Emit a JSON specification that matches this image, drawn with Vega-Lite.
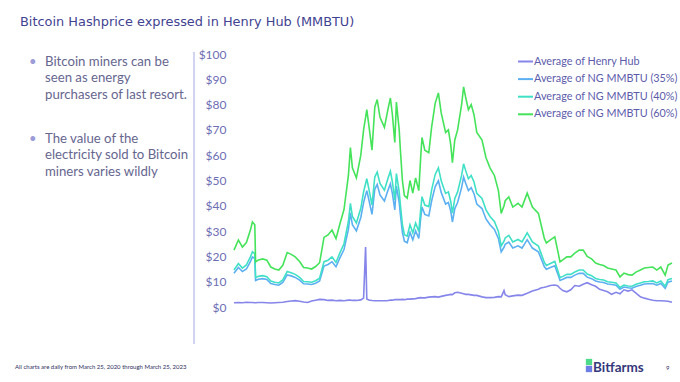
{
  "$schema": "https://vega.github.io/schema/vega-lite/v6.json",
  "autosize": {"type": "none"},
  "width": 438,
  "height": 253,
  "padding": {"left": 234, "top": 54, "right": 8, "bottom": 75},
  "background": "white",
  "config": {"view": {"stroke": null}},
  "datasets": {
    "hash": [
      {"d":"2020-03-25","hh":1.7,"ng35":13.3,"ng40":14.6,"ng60":22.5},
      {"d":"2020-04-05","hh":1.8,"ng35":15.6,"ng40":17.2,"ng60":26.5},
      {"d":"2020-04-15","hh":1.7,"ng35":14.0,"ng40":15.4,"ng60":23.7},
      {"d":"2020-04-25","hh":1.9,"ng35":15.0,"ng40":16.6,"ng60":25.5},
      {"d":"2020-05-05","hh":1.8,"ng35":17.9,"ng40":19.8,"ng60":30.4},
      {"d":"2020-05-10","hh":1.8,"ng35":19.8,"ng40":21.8,"ng60":33.6},
      {"d":"2020-05-16","hh":1.7,"ng35":19.2,"ng40":21.1,"ng60":32.5},
      {"d":"2020-05-18","hh":1.7,"ng35":10.5,"ng40":11.6,"ng60":17.8},
      {"d":"2020-05-25","hh":1.8,"ng35":11.0,"ng40":12.1,"ng60":18.6},
      {"d":"2020-06-05","hh":1.8,"ng35":11.2,"ng40":12.4,"ng60":19.0},
      {"d":"2020-06-15","hh":1.7,"ng35":10.9,"ng40":12.0,"ng60":18.5},
      {"d":"2020-06-25","hh":1.6,"ng35":9.3,"ng40":10.3,"ng60":15.8},
      {"d":"2020-07-05","hh":1.7,"ng35":8.9,"ng40":9.8,"ng60":15.0},
      {"d":"2020-07-15","hh":1.8,"ng35":8.6,"ng40":9.5,"ng60":14.6},
      {"d":"2020-07-25","hh":1.9,"ng35":9.7,"ng40":10.7,"ng60":16.5},
      {"d":"2020-08-05","hh":2.2,"ng35":12.7,"ng40":14.0,"ng60":21.5},
      {"d":"2020-08-15","hh":2.4,"ng35":12.3,"ng40":13.5,"ng60":20.8},
      {"d":"2020-08-25","hh":2.5,"ng35":11.7,"ng40":12.9,"ng60":19.8},
      {"d":"2020-09-05","hh":2.3,"ng35":10.6,"ng40":11.7,"ng60":18.0},
      {"d":"2020-09-15","hh":2.0,"ng35":9.2,"ng40":10.1,"ng60":15.6},
      {"d":"2020-09-25","hh":1.8,"ng35":9.1,"ng40":10.0,"ng60":15.4},
      {"d":"2020-10-05","hh":2.4,"ng35":8.9,"ng40":9.8,"ng60":15.0},
      {"d":"2020-10-15","hh":2.7,"ng35":9.4,"ng40":10.4,"ng60":16.0},
      {"d":"2020-10-25","hh":3.0,"ng35":10.3,"ng40":11.4,"ng60":17.5},
      {"d":"2020-11-05","hh":2.9,"ng35":16.2,"ng40":17.9,"ng60":27.5},
      {"d":"2020-11-15","hh":2.6,"ng35":16.8,"ng40":18.5,"ng60":28.5},
      {"d":"2020-11-25","hh":2.7,"ng35":17.9,"ng40":19.8,"ng60":30.4},
      {"d":"2020-12-05","hh":2.5,"ng35":15.9,"ng40":17.6,"ng60":27.0},
      {"d":"2020-12-15","hh":2.6,"ng35":19.5,"ng40":21.5,"ng60":33.0},
      {"d":"2020-12-25","hh":2.5,"ng35":22.7,"ng40":25.0,"ng60":38.5},
      {"d":"2021-01-05","hh":2.7,"ng35":30.7,"ng40":33.8,"ng60":52.0},
      {"d":"2021-01-10","hh":2.7,"ng35":37.2,"ng40":41.0,"ng60":63.0},
      {"d":"2021-01-15","hh":2.6,"ng35":32.5,"ng40":35.8,"ng60":55.0},
      {"d":"2021-01-25","hh":2.6,"ng35":30.1,"ng40":33.2,"ng60":51.0},
      {"d":"2021-02-05","hh":2.8,"ng35":35.4,"ng40":39.0,"ng60":60.0},
      {"d":"2021-02-12","hh":3.5,"ng35":41.3,"ng40":45.5,"ng60":70.0},
      {"d":"2021-02-17","hh":23.7,"ng35":44.3,"ng40":48.8,"ng60":75.0},
      {"d":"2021-02-20","hh":3.2,"ng35":46.0,"ng40":50.7,"ng60":78.0},
      {"d":"2021-02-25","hh":2.8,"ng35":42.5,"ng40":46.8,"ng60":72.0},
      {"d":"2021-03-05","hh":2.6,"ng35":36.6,"ng40":40.3,"ng60":62.0},
      {"d":"2021-03-12","hh":2.5,"ng35":46.6,"ng40":51.4,"ng60":79.0},
      {"d":"2021-03-18","hh":2.5,"ng35":48.4,"ng40":53.3,"ng60":82.0},
      {"d":"2021-03-25","hh":2.5,"ng35":44.3,"ng40":48.8,"ng60":75.0},
      {"d":"2021-04-05","hh":2.5,"ng35":41.9,"ng40":46.2,"ng60":71.0},
      {"d":"2021-04-10","hh":2.5,"ng35":44.3,"ng40":48.8,"ng60":75.0},
      {"d":"2021-04-15","hh":2.6,"ng35":46.6,"ng40":51.4,"ng60":79.0},
      {"d":"2021-04-20","hh":2.7,"ng35":48.7,"ng40":53.7,"ng60":82.6},
      {"d":"2021-04-25","hh":2.7,"ng35":44.8,"ng40":49.4,"ng60":76.0},
      {"d":"2021-05-01","hh":2.9,"ng35":38.4,"ng40":42.3,"ng60":65.0},
      {"d":"2021-05-05","hh":2.9,"ng35":47.8,"ng40":52.7,"ng60":81.0},
      {"d":"2021-05-12","hh":2.9,"ng35":41.3,"ng40":45.5,"ng60":70.0},
      {"d":"2021-05-15","hh":2.9,"ng35":36.6,"ng40":40.3,"ng60":62.0},
      {"d":"2021-05-20","hh":3.0,"ng35":29.5,"ng40":32.5,"ng60":50.0},
      {"d":"2021-05-25","hh":2.9,"ng35":26.0,"ng40":28.6,"ng60":44.0},
      {"d":"2021-06-01","hh":3.1,"ng35":25.4,"ng40":28.0,"ng60":43.0},
      {"d":"2021-06-08","hh":3.1,"ng35":29.5,"ng40":32.5,"ng60":50.0},
      {"d":"2021-06-15","hh":3.2,"ng35":26.6,"ng40":29.3,"ng60":45.0},
      {"d":"2021-06-22","hh":3.3,"ng35":30.1,"ng40":33.2,"ng60":51.0},
      {"d":"2021-06-30","hh":3.6,"ng35":27.1,"ng40":29.9,"ng60":46.0},
      {"d":"2021-07-05","hh":3.7,"ng35":35.4,"ng40":39.0,"ng60":60.0},
      {"d":"2021-07-08","hh":3.6,"ng35":39.5,"ng40":43.6,"ng60":67.0},
      {"d":"2021-07-15","hh":3.6,"ng35":36.6,"ng40":40.3,"ng60":62.0},
      {"d":"2021-07-25","hh":3.9,"ng35":36.0,"ng40":39.7,"ng60":61.0},
      {"d":"2021-08-01","hh":4.0,"ng35":41.9,"ng40":46.2,"ng60":71.0},
      {"d":"2021-08-10","hh":4.1,"ng35":47.6,"ng40":52.4,"ng60":80.6},
      {"d":"2021-08-18","hh":3.9,"ng35":49.9,"ng40":55.0,"ng60":84.6},
      {"d":"2021-08-25","hh":4.2,"ng35":45.3,"ng40":49.9,"ng60":76.7},
      {"d":"2021-09-05","hh":4.6,"ng35":40.7,"ng40":44.9,"ng60":69.0},
      {"d":"2021-09-12","hh":4.8,"ng35":41.3,"ng40":45.5,"ng60":70.0},
      {"d":"2021-09-18","hh":5.0,"ng35":37.8,"ng40":41.6,"ng60":64.0},
      {"d":"2021-09-22","hh":4.9,"ng35":33.6,"ng40":37.1,"ng60":57.0},
      {"d":"2021-09-28","hh":5.6,"ng35":38.9,"ng40":42.9,"ng60":66.0},
      {"d":"2021-10-05","hh":5.8,"ng35":41.3,"ng40":45.5,"ng60":70.0},
      {"d":"2021-10-15","hh":5.4,"ng35":47.2,"ng40":52.0,"ng60":80.0},
      {"d":"2021-10-20","hh":5.2,"ng35":51.3,"ng40":56.6,"ng60":87.0},
      {"d":"2021-10-25","hh":5.0,"ng35":49.0,"ng40":54.0,"ng60":83.0},
      {"d":"2021-11-01","hh":5.0,"ng35":46.0,"ng40":50.7,"ng60":78.0},
      {"d":"2021-11-08","hh":4.8,"ng35":47.2,"ng40":52.0,"ng60":80.0},
      {"d":"2021-11-15","hh":4.6,"ng35":44.8,"ng40":49.4,"ng60":76.0},
      {"d":"2021-11-22","hh":4.6,"ng35":40.7,"ng40":44.9,"ng60":69.0},
      {"d":"2021-12-05","hh":4.0,"ng35":38.9,"ng40":42.9,"ng60":66.0},
      {"d":"2021-12-15","hh":3.7,"ng35":34.8,"ng40":38.4,"ng60":59.0},
      {"d":"2021-12-25","hh":3.7,"ng35":32.5,"ng40":35.8,"ng60":55.0},
      {"d":"2022-01-05","hh":3.8,"ng35":30.7,"ng40":33.8,"ng60":52.0},
      {"d":"2022-01-15","hh":4.1,"ng35":27.1,"ng40":29.9,"ng60":46.0},
      {"d":"2022-01-22","hh":4.0,"ng35":21.8,"ng40":24.1,"ng60":37.0},
      {"d":"2022-01-29","hh":6.5,"ng35":23.6,"ng40":26.0,"ng60":40.0},
      {"d":"2022-02-01","hh":4.9,"ng35":24.8,"ng40":27.3,"ng60":42.0},
      {"d":"2022-02-10","hh":4.1,"ng35":25.7,"ng40":28.3,"ng60":43.5},
      {"d":"2022-02-20","hh":4.4,"ng35":23.3,"ng40":25.7,"ng60":39.5},
      {"d":"2022-03-05","hh":4.7,"ng35":24.2,"ng40":26.7,"ng60":41.0},
      {"d":"2022-03-15","hh":4.6,"ng35":23.3,"ng40":25.7,"ng60":39.5},
      {"d":"2022-03-28","hh":5.4,"ng35":26.6,"ng40":29.3,"ng60":45.0},
      {"d":"2022-04-10","hh":6.3,"ng35":23.3,"ng40":25.7,"ng60":39.5},
      {"d":"2022-04-25","hh":7.0,"ng35":21.8,"ng40":24.1,"ng60":37.0},
      {"d":"2022-05-01","hh":7.5,"ng35":19.5,"ng40":21.5,"ng60":33.0},
      {"d":"2022-05-10","hh":7.8,"ng35":15.9,"ng40":17.6,"ng60":27.0},
      {"d":"2022-05-15","hh":8.0,"ng35":14.9,"ng40":16.4,"ng60":25.3},
      {"d":"2022-05-25","hh":8.5,"ng35":15.6,"ng40":17.2,"ng60":26.5},
      {"d":"2022-06-05","hh":8.7,"ng35":16.3,"ng40":18.0,"ng60":27.7},
      {"d":"2022-06-12","hh":8.4,"ng35":13.3,"ng40":14.6,"ng60":22.5},
      {"d":"2022-06-18","hh":7.4,"ng35":10.5,"ng40":11.6,"ng60":17.8},
      {"d":"2022-06-25","hh":6.5,"ng35":11.0,"ng40":12.1,"ng60":18.6},
      {"d":"2022-07-05","hh":6.0,"ng35":11.7,"ng40":12.9,"ng60":19.8},
      {"d":"2022-07-15","hh":6.8,"ng35":11.7,"ng40":12.9,"ng60":19.8},
      {"d":"2022-07-25","hh":8.5,"ng35":12.6,"ng40":13.8,"ng60":21.3},
      {"d":"2022-08-05","hh":8.2,"ng35":13.3,"ng40":14.6,"ng60":22.5},
      {"d":"2022-08-15","hh":9.0,"ng35":13.3,"ng40":14.6,"ng60":22.5},
      {"d":"2022-08-25","hh":9.6,"ng35":11.8,"ng40":13.0,"ng60":20.0},
      {"d":"2022-09-05","hh":8.8,"ng35":11.2,"ng40":12.4,"ng60":19.0},
      {"d":"2022-09-15","hh":8.2,"ng35":10.3,"ng40":11.3,"ng60":17.4},
      {"d":"2022-09-25","hh":7.0,"ng35":9.9,"ng40":10.9,"ng60":16.8},
      {"d":"2022-10-05","hh":6.5,"ng35":9.7,"ng40":10.7,"ng60":16.4},
      {"d":"2022-10-15","hh":6.0,"ng35":9.1,"ng40":10.0,"ng60":15.4},
      {"d":"2022-10-25","hh":5.0,"ng35":8.9,"ng40":9.8,"ng60":15.0},
      {"d":"2022-11-05","hh":5.8,"ng35":8.6,"ng40":9.5,"ng60":14.6},
      {"d":"2022-11-15","hh":5.2,"ng35":7.0,"ng40":7.7,"ng60":11.9},
      {"d":"2022-11-25","hh":6.8,"ng35":7.9,"ng40":8.7,"ng60":13.4},
      {"d":"2022-12-05","hh":6.3,"ng35":7.6,"ng40":8.3,"ng60":12.8},
      {"d":"2022-12-15","hh":6.8,"ng35":7.4,"ng40":8.2,"ng60":12.6},
      {"d":"2022-12-25","hh":5.5,"ng35":8.1,"ng40":9.0,"ng60":13.8},
      {"d":"2023-01-05","hh":4.0,"ng35":8.6,"ng40":9.5,"ng60":14.6},
      {"d":"2023-01-15","hh":3.5,"ng35":9.1,"ng40":10.0,"ng60":15.4},
      {"d":"2023-01-25","hh":3.1,"ng35":9.2,"ng40":10.1,"ng60":15.6},
      {"d":"2023-02-05","hh":2.7,"ng35":9.3,"ng40":10.3,"ng60":15.8},
      {"d":"2023-02-15","hh":2.5,"ng35":8.6,"ng40":9.5,"ng60":14.6},
      {"d":"2023-02-25","hh":2.5,"ng35":9.3,"ng40":10.3,"ng60":15.8},
      {"d":"2023-03-08","hh":2.4,"ng35":7.4,"ng40":8.2,"ng60":12.6},
      {"d":"2023-03-15","hh":2.3,"ng35":9.8,"ng40":10.8,"ng60":16.6},
      {"d":"2023-03-25","hh":1.9,"ng35":10.3,"ng40":11.3,"ng60":17.4}
    ]
  },
  "layer": [
    {
      "data": {"name": "hash"},
      "transform": [{"fold": ["hh", "ng35", "ng40", "ng60"], "as": ["series", "price"]}],
      "mark": {"type": "line", "strokeWidth": 1.6, "interpolate": "linear"},
      "encoding": {
        "x": {"field": "d", "type": "temporal", "axis": null, "scale": {"nice": false}},
        "y": {
          "field": "price", "type": "quantitative",
          "scale": {"domain": [0, 100], "nice": false},
          "axis": {
            "title": null, "domain": false, "ticks": false, "grid": false,
            "values": [0, 10, 20, 30, 40, 50, 60, 70, 80, 90, 100],
            "format": "$.0f", "labelFont": "Lato", "labelFontSize": 12,
            "labelColor": "#6e6eb4", "labelPadding": 8
          }
        },
        "color": {
          "field": "series", "type": "nominal",
          "scale": {"domain": ["hh", "ng35", "ng40", "ng60"], "range": ["#8585ea", "#5cb0f2", "#3fe0c6", "#45e35a"]},
          "legend": {
            "title": null, "orient": "none", "legendX": 283, "legendY": -1,
            "symbolType": "stroke", "symbolSize": 225, "symbolStrokeWidth": 2,
            "labelFont": "Lato", "labelFontSize": 10.8, "labelColor": "#5c5cab",
            "labelOffset": 0, "rowPadding": 3.6, "labelLimit": 200,
            "labelExpr": "datum.label == 'hh' ? 'Average of Henry Hub' : datum.label == 'ng35' ? 'Average of NG MMBTU (35%)' : datum.label == 'ng40' ? 'Average of NG MMBTU (40%)' : 'Average of NG MMBTU (60%)'"
          }
        }
      }
    },
    {
      "data": {"values": [{}]},
      "mark": {"type": "text", "text": "Bitcoin Hashprice expressed in Henry Hub (MMBTU)", "font": "DejaVu Sans", "fontSize": 12.9, "color": "#3f4391", "align": "left", "baseline": "middle"},
      "encoding": {"x": {"value": -214}, "y": {"value": -32}}
    },
    {
      "data": {"values": [{}]},
      "mark": {"type": "rule", "color": "#c3c3ef", "strokeWidth": 1.5},
      "encoding": {"x": {"value": -40}, "y": {"value": -2}, "y2": {"value": 290}}
    },
    {
      "data": {"values": [{}]},
      "mark": {"type": "text", "text": "•", "font": "Lato", "fontSize": 13, "color": "#9c9cd6", "align": "left", "baseline": "middle"},
      "encoding": {"x": {"value": -205}, "y": {"value": 8}}
    },
    {
      "data": {"values": [{}]},
      "mark": {"type": "text", "text": "•", "font": "Lato", "fontSize": 13, "color": "#9c9cd6", "align": "left", "baseline": "middle"},
      "encoding": {"x": {"value": -205}, "y": {"value": 85}}
    },
    {
      "data": {"values": [{}]},
      "mark": {"type": "text", "text": ["Bitcoin miners can be", "seen as energy", "purchasers of last resort."], "font": "Lato", "fontSize": 13.2, "lineHeight": 16.3, "color": "#66668f", "align": "left", "baseline": "middle"},
      "encoding": {"x": {"value": -189}, "y": {"value": 8}}
    },
    {
      "data": {"values": [{}]},
      "mark": {"type": "text", "text": ["The value of the", "electricity sold to Bitcoin", "miners varies wildly"], "font": "Lato", "fontSize": 13.2, "lineHeight": 16.3, "color": "#66668f", "align": "left", "baseline": "middle"},
      "encoding": {"x": {"value": -189}, "y": {"value": 85}}
    },
    {
      "data": {"values": [{}]},
      "mark": {"type": "text", "text": "All charts are daily from March 25, 2020 through March 25, 2023", "font": "Lato", "fontSize": 6, "color": "#2d2d5c", "align": "left", "baseline": "middle"},
      "encoding": {"x": {"value": -219}, "y": {"value": 313}}
    },
    {
      "data": {"values": [{}]},
      "mark": {"type": "point", "shape": "square", "filled": true, "size": 40, "color": "#4fd98a", "opacity": 1},
      "encoding": {"x": {"value": 355}, "y": {"value": 308}}
    },
    {
      "data": {"values": [{}]},
      "mark": {"type": "point", "shape": "square", "filled": true, "size": 40, "color": "#6d7fe6", "opacity": 1},
      "encoding": {"x": {"value": 355}, "y": {"value": 315}}
    },
    {
      "data": {"values": [{}]},
      "mark": {"type": "text", "text": "Bitfarms", "font": "Lato", "fontSize": 13.5, "fontWeight": "bold", "color": "#34387a", "align": "left", "baseline": "middle"},
      "encoding": {"x": {"value": 359}, "y": {"value": 314}}
    },
    {
      "data": {"values": [{}]},
      "mark": {"type": "text", "text": "9", "font": "Lato", "fontSize": 6, "color": "#2d2d5c", "align": "left", "baseline": "middle"},
      "encoding": {"x": {"value": 432}, "y": {"value": 314}}
    }
  ]
}
